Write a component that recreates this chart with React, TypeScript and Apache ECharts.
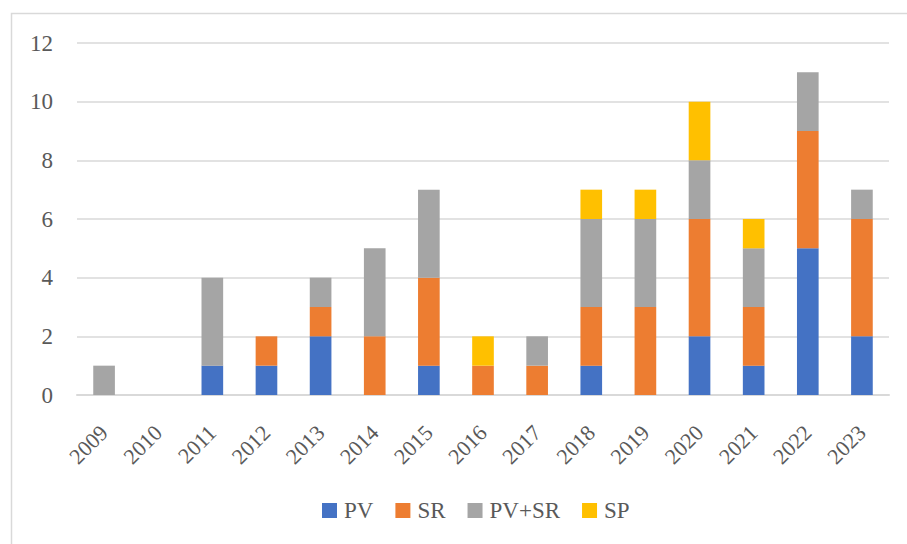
import React, { useEffect, useRef } from "react";
import * as echarts from "echarts";

const years = ["2009","2010","2011","2012","2013","2014","2015","2016","2017","2018","2019","2020","2021","2022","2023"];
const pv =     [0,0,1,1,2,0,1,0,0,1,0,2,1,5,2];
const sr =     [0,0,0,1,1,2,3,1,1,2,3,4,2,4,4];
const pvsr =   [1,0,3,0,1,3,3,0,1,3,3,2,2,2,1];
const sp =     [0,0,0,0,0,0,0,1,0,1,1,2,1,0,0];

const seriesNames = ["PV", "SR", "PV+SR", "SP"];
const seriesColors = ["#4472c4", "#ed7d31", "#a5a5a5", "#ffc000"];
const seriesData = [pv, sr, pvsr, sp];

const FONT = "'Liberation Serif', serif";

export default function App() {
  const ref = useRef<HTMLDivElement>(null);
  useEffect(() => {
    const chart = echarts.init(ref.current!, null, { renderer: "svg" });
    chart.setOption({
      animation: false,
      backgroundColor: "#ffffff",
      textStyle: { fontFamily: FONT },
      graphic: [
        {
          type: "rect",
          shape: { x: 11.5, y: 13.5, width: 1000, height: 700 },
          style: { fill: "none", stroke: "#d9d9d9", lineWidth: 1.5 },
          silent: true,
        },
      ],
      grid: { left: 77, right: 18, top: 43, bottom: 149, containLabel: false },
      legend: {
        top: 494,
        left: 317,
        itemWidth: 15,
        itemHeight: 15,
        itemGap: 22,
        icon: "rect",
        textStyle: { fontFamily: FONT, fontSize: 23, color: "#595959", padding: [0, 0, 0, 2] },
        data: seriesNames,
      },
      xAxis: {
        type: "category",
        data: years,
        axisLine: { lineStyle: { color: "#d9d9d9", width: 2 } },
        axisTick: { show: false },
        axisLabel: {
          rotate: 45,
          fontFamily: FONT,
          fontSize: 22,
          color: "#595959",
          margin: 34,
          interval: 0,
        },
      },
      yAxis: {
        type: "value",
        min: 0,
        max: 12,
        interval: 2,
        axisLine: { show: false },
        axisTick: { show: false },
        splitLine: { lineStyle: { color: "#d9d9d9", width: 1.5 } },
        axisLabel: { fontFamily: FONT, fontSize: 23, color: "#595959", margin: 24 },
      },
      series: seriesNames.map((n, i) => ({
        name: n,
        type: "bar",
        stack: "total",
        barWidth: "40%",
        data: seriesData[i],
        itemStyle: { color: seriesColors[i] },
      })),
    });
    return () => chart.dispose();
  }, []);
  return (
    <div
      ref={ref}
      style={{ position: "fixed", left: 0, top: 0, width: 907, height: 544 }}
    />
  );
}
